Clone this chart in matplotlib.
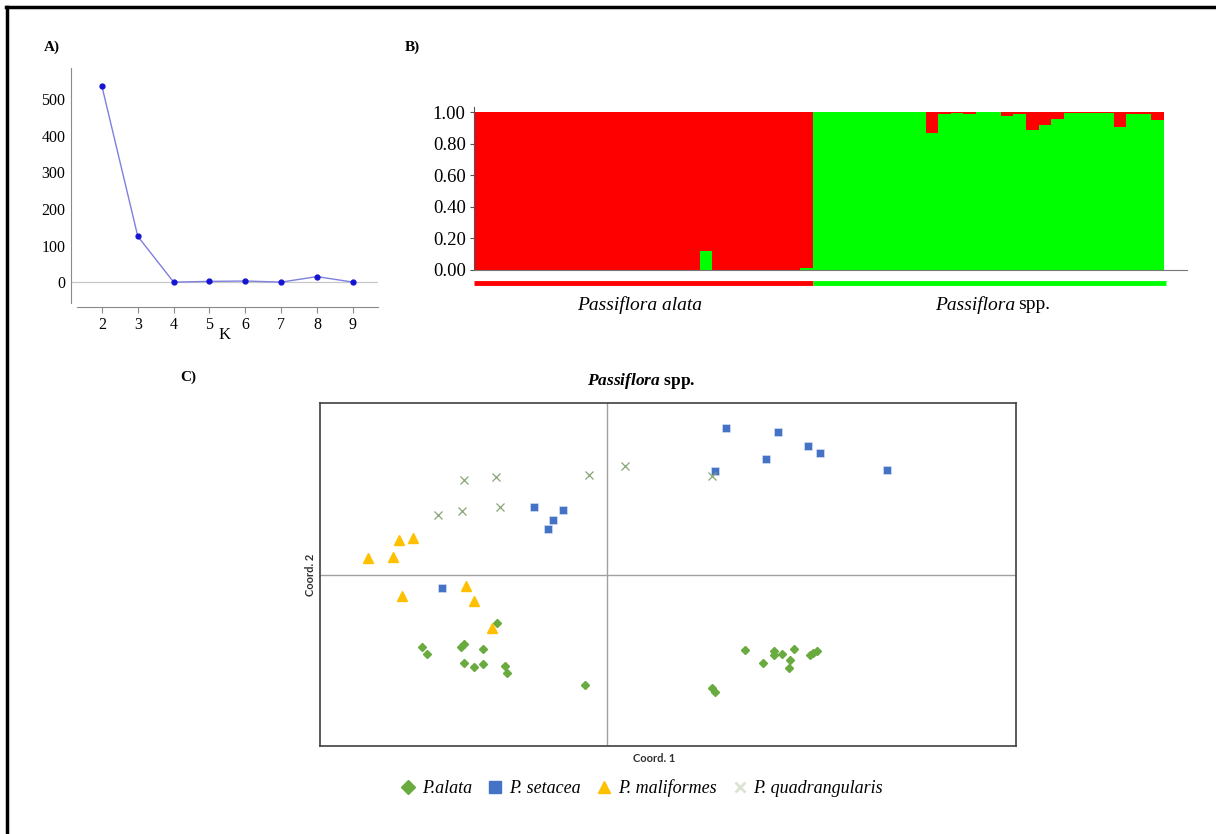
import matplotlib.pyplot as plt
import numpy as np
from matplotlib.lines import Line2D

plt.rcParams['mathtext.fontset'] = 'custom'
plt.rcParams['mathtext.rm'] = 'Liberation Serif'
plt.rcParams['mathtext.it'] = 'Liberation Serif:italic'
plt.rcParams['mathtext.bf'] = 'Liberation Serif:bold'
plt.rcParams['mathtext.bfit'] = 'Liberation Serif:italic:bold'

# A) delta K
k_vals = [2, 3, 4, 5, 6, 7, 8, 9]
delta_k = [535, 125, 0, 2, 3, 0, 15, 0]

# B) structure bar plot (green fraction at bottom, red on top)
alata_green = [0, 0, 0, 0, 0, 0, 0, 0, 0, 0, 0, 0, 0, 0, 0, 0, 0, 0, 0.12,
               0, 0, 0, 0, 0, 0, 0, 0.01]
spp_red = [0, 0, 0, 0, 0, 0, 0, 0, 0, 0.13, 0.01, 0.005, 0.01, 0, 0, 0.025,
           0.01, 0.11, 0.08, 0.04, 0.005, 0.005, 0.005, 0.005, 0.095, 0.01,
           0.01, 0.05]
b_ticks = [0.0, 0.2, 0.4, 0.6, 0.8, 1.0]

# C) PCoA coordinates
alata_x = [-1.10, -1.85, -1.80, -1.46, -1.43, -1.24, -1.43, -1.33, -1.24, -1.02,
           -1.00, -0.22, 1.38, 1.56, 1.67, 1.67, 1.75, 1.87, 1.83, 1.82, 2.03,
           2.06, 2.10, 1.05, 1.08]
alata_y = [-0.48, -0.72, -0.79, -0.72, -0.69, -0.74, -0.88, -0.92, -0.89, -0.91,
           -0.98, -1.10, -0.75, -0.88, -0.76, -0.80, -0.79, -0.74, -0.85, -0.93,
           -0.80, -0.78, -0.76, -1.13, -1.17]
setacea_x = [-0.73, -0.44, -0.54, -0.59, -1.65, 1.19, 1.71, 2.01, 2.13, 1.59, 1.08, 2.80]
setacea_y = [0.68, 0.65, 0.55, 0.46, -0.13, 1.47, 1.43, 1.29, 1.22, 1.16, 1.04, 1.05]
malif_x = [-2.08, -1.94, -2.39, -2.14, -2.05, -1.41, -1.33, -1.15]
malif_y = [0.35, 0.37, 0.17, 0.18, -0.21, -0.11, -0.26, -0.53]
quad_x = [-1.43, -1.11, -0.18, 0.18, -1.69, -1.45, -1.07, 1.05]
quad_y = [0.95, 0.98, 1.00, 1.09, 0.60, 0.64, 0.68, 0.99]

W, H = 1216, 834
fig = plt.figure(figsize=(W / 100, H / 100), dpi=100)


def rect(l, t, r, b):
    return [l / W, 1 - b / H, (r - l) / W, (b - t) / H]


serif = 'Liberation Serif'

# ---- panel A
axA = fig.add_axes(rect(71, 68, 378, 307))
axA.axhline(0, color='#c8c8c8', lw=0.9, zorder=0)
axA.plot(k_vals, delta_k, color='#7f7fe0', lw=1, marker='o', ms=3.5,
         mfc='#1414d2', mec='#1414d2')
axA.set_xlim(1.137, 9.7)
axA.set_ylim(-68, 585)
axA.set_xticks(k_vals)
axA.set_yticks([0, 100, 200, 300, 400, 500])
for s in ['top', 'right']:
    axA.spines[s].set_visible(False)
for s in ['left', 'bottom']:
    axA.spines[s].set_color('#8a8a8a')
axA.spines['left'].set_bounds(-57, 585)
axA.spines['bottom'].set_bounds(1.30, 9.7)
axA.tick_params(axis='y', length=0, pad=4, labelsize=11.5)
axA.tick_params(axis='x', length=4, color='#8a8a8a', labelsize=11.5, pad=3)
for lab in axA.get_xticklabels() + axA.get_yticklabels():
    lab.set_family(serif)
axA.set_xlabel('K', family=serif, fontsize=12, labelpad=-4)
fig.text(44 / W, 1 - 47 / H, 'A)', family=serif, weight='bold', fontsize=11, va='center')

# ---- panel B
green = alata_green + [1 - r for r in spp_red]
red = [1 - g for g in green]
n_alata = len(alata_green)
n_all = len(green)
xb = np.arange(n_all)
axB = fig.add_axes(rect(474, 107, 1187, 270))
axB.bar(xb, green, width=1, align='edge', color='#00ff00', lw=0)
axB.bar(xb, red, width=1, align='edge', bottom=green, color='#ff0000', lw=0)
axB.set_xlim(0, 56.83)
axB.set_ylim(0, 1.034)
axB.set_xticks([])
axB.set_yticks(b_ticks)
axB.set_yticklabels(['%.2f' % v for v in b_ticks], family=serif, fontsize=13.5)
axB.tick_params(axis='y', length=3, color='#555555', pad=3)
for s in ['top', 'right']:
    axB.spines[s].set_visible(False)
axB.spines['left'].set_color('#555555')
axB.spines['bottom'].set_color('#777777')
axB.plot([0, n_alata], [-0.082, -0.082], color='#ff0000', lw=3.5,
         solid_capstyle='butt', clip_on=False)
axB.plot([n_alata, n_all + 0.15], [-0.082, -0.082], color='#00ff00', lw=3.5,
         solid_capstyle='butt', clip_on=False)
axB.text(n_alata / 2 - 0.3, -0.22, 'Passiflora alata', ha='center', va='center',
         fontsize=14, family=serif, style='italic', clip_on=False)
axB.text(43.15, -0.22, 'Passiflora', ha='right', va='center', fontsize=14,
         family=serif, style='italic', clip_on=False)
axB.text(43.4, -0.22, 'spp.', ha='left', va='center', fontsize=14,
         family=serif, clip_on=False)
fig.text(405 / W, 1 - 47 / H, 'B)', family=serif, weight='bold', fontsize=11, va='center')

# ---- panel C
axC = fig.add_axes(rect(320, 403, 1016, 746))
axC.axhline(0, color='#a0a0a0', lw=1, zorder=0)
axC.axvline(0, color='#a0a0a0', lw=1, zorder=0)
axC.plot(alata_x, alata_y, ls='none', marker='D', ms=4, color='#6aab3f')
axC.plot(setacea_x, setacea_y, ls='none', marker='s', ms=5.5, color='#4472c4',
         mec='#dfe7f5', mew=0.4)
axC.plot(malif_x, malif_y, ls='none', marker='^', ms=6.5, color='#ffc000')
axC.plot(quad_x, quad_y, ls='none', marker='x', ms=6, mew=0.9, color='#86a474')
axC.set_xlim(-2.87, 4.09)
axC.set_ylim(-1.71, 1.72)
axC.set_xticks([])
axC.set_yticks([])
for s in axC.spines.values():
    s.set_color('#404040')
    s.set_linewidth(1.2)
fig.text(641 / W, 1 - 381 / H, r'$\mathbfit{Passiflora}$ spp.', family=serif,
         weight='bold', fontsize=12.5, ha='center', va='center')
fig.text(654 / W, 1 - 758 / H, 'Coord. 1', family='Lato', weight='bold',
         fontsize=8, ha='center', va='center', color='#303030')
fig.text(311 / W, 1 - 575 / H, 'Coord. 2', family='Lato', weight='bold',
         fontsize=8, ha='center', va='center', rotation=90, color='#303030')
fig.text(180 / W, 1 - 377 / H, 'C)', family=serif, weight='bold', fontsize=11, va='center')

handles = [
    Line2D([], [], ls='none', marker='D', ms=7.5, color='#6aab3f'),
    Line2D([], [], ls='none', marker='s', ms=8, color='#4472c4'),
    Line2D([], [], ls='none', marker='^', ms=9, color='#ffc000'),
    Line2D([], [], ls='none', marker='x', ms=7, mew=2, color='#dde3d2'),
]
labels = ['P.alata', 'P. setacea', 'P. maliformes', 'P. quadrangularis']
fig.legend(handles, labels, loc='center', bbox_to_anchor=(642 / W, 1 - 788 / H),
           ncol=4, frameon=False, handlelength=0.8, handletextpad=0.35,
           columnspacing=0.9, prop={'family': serif, 'style': 'italic', 'size': 13})

# page border (top and left)
fig.add_artist(Line2D([6 / W, 1], [1 - 7 / H, 1 - 7 / H], transform=fig.transFigure,
                      color='black', lw=2.5))
fig.add_artist(Line2D([7 / W, 7 / W], [0, 1 - 7 / H], transform=fig.transFigure,
                      color='black', lw=2.5))

fig.savefig('out.png', dpi=100)
